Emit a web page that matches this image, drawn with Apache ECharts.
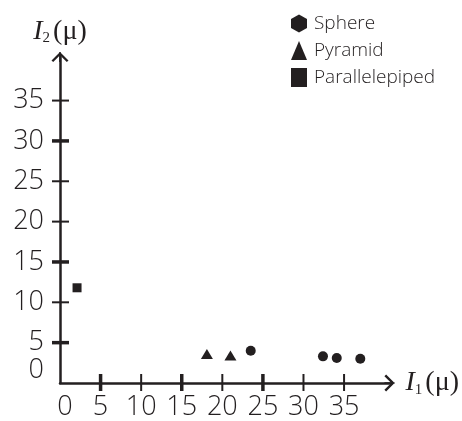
<!DOCTYPE html>
<html>
<head>
<meta charset="utf-8">
<script src="https://cdn.jsdelivr.net/npm/echarts@6/dist/echarts.min.js"></script>
<style>
  html, body { margin: 0; padding: 0; background: #fff; }
  #main { width: 462px; height: 421px; }
</style>
</head>
<body>
<div id="main"></div>
<script>
// values
const sphere = [[23.5, 4.0], [32.4, 3.3], [34.1, 3.1], [37.0, 3.0]];
const pyramid = [[18.1, 3.6], [21.0, 3.4]];
const parallelepiped = [[2.1, 11.8]];

// tick marks: thick ones and thin ones
const xTicksThick = [5, 15, 25];
const xTicksThin = [10, 20, 30, 35];
const yTicksThick = [5, 15, 30];
const yTicksThin = [10, 20, 25, 35];

const ink = "#231f20";
const hexagon = "path://M10,0 L19,5 L19,15 L10,20 L1,15 L1,5 Z";
const arrow = "path://M10,0 L20,10 L18,12 L10,4 L2,12 L0,10 Z M9,0 L11,0 L11,12 L9,12 Z";

const tickRows = [];
xTicksThick.forEach(v => tickRows.push([v, 0, "x", 3.5]));
xTicksThin.forEach(v => tickRows.push([v, 0, "x", 2]));
yTicksThick.forEach(v => tickRows.push([0, v, "y", 3.5]));
yTicksThin.forEach(v => tickRows.push([0, v, "y", 2]));

const nameRich = {
  i: { fontFamily: "Liberation Serif", fontStyle: "italic", fontSize: 28, color: ink },
  s: { fontFamily: "Liberation Serif", fontSize: 15, color: ink, padding: [14, 3, 0, 0] },
  p: { fontFamily: "Liberation Serif", fontSize: 28, color: ink }
};

const labelFont = { fontFamily: "Open Sans", fontWeight: 300, fontSize: 27, color: ink };

const chart = echarts.init(document.getElementById("main"));
chart.setOption({
  animation: false,
  grid: { left: 60, right: 70, top: 57, bottom: 33 },
  legend: {
    orient: "vertical",
    left: 286,
    top: 9,
    itemGap: 8,
    itemWidth: 16,
    itemHeight: 19,
    itemStyle: { opacity: 1, color: ink },
    textStyle: { fontFamily: "Open Sans", fontWeight: 300, fontSize: 19, color: ink, padding: [0, 0, 0, 2] },
    data: [
      { name: "Sphere", icon: hexagon },
      { name: "Pyramid", icon: "triangle" },
      { name: "Parallelepiped", icon: "rect" }
    ]
  },
  xAxis: {
    type: "value",
    min: 0,
    max: 40.6,
    interval: 5,
    name: "{i|I}{s|1}{p|(μ)}",
    nameLocation: "end",
    nameGap: 16,
    nameTextStyle: { rich: nameRich, verticalAlign: "middle" },
    splitLine: { show: false },
    axisTick: { show: false },
    axisLine: {
      lineStyle: { color: ink, width: 2.5 },
      symbol: ["none", arrow],
      symbolSize: [17, 11]
    },
    axisLabel: Object.assign({
      margin: 11,
      formatter: v => v > 35 ? "" : (v === 0 ? "{z|0}" : String(v)),
      rich: { z: Object.assign({ padding: [0, 0, 0, 10] }, labelFont) }
    }, labelFont)
  },
  yAxis: {
    type: "value",
    min: 0,
    max: 40.4,
    interval: 5,
    name: "{i|I}{s|2}{p|(μ)}",
    nameLocation: "end",
    nameGap: 11,
    nameTextStyle: { rich: nameRich },
    splitLine: { show: false },
    axisTick: { show: false },
    axisLine: {
      lineStyle: { color: ink, width: 2.5 },
      symbol: ["none", arrow],
      symbolSize: [17, 11]
    },
    axisLabel: Object.assign({
      margin: 16,
      formatter: v => v > 35 ? "" : (v === 0 ? "{z|0}" : String(v)),
      rich: { z: Object.assign({ padding: [0, 0, 26, 0] }, labelFont) }
    }, labelFont)
  },
  series: [
    {
      type: "custom",
      silent: true,
      clip: false,
      data: tickRows,
      renderItem: (params, api) => {
        const p = api.coord([api.value(0), api.value(1)]);
        const dir = tickRows[params.dataIndex][2];
        const w = tickRows[params.dataIndex][3];
        const shape = dir === "x"
          ? { x1: p[0], y1: p[1] - 9, x2: p[0], y2: p[1] + 8 }
          : { x1: p[0] - 8, y1: p[1], x2: p[0] + 9, y2: p[1] };
        return { type: "line", shape: shape, style: { stroke: ink, lineWidth: w } };
      }
    },
    {
      name: "Sphere",
      type: "scatter",
      data: sphere,
      symbol: "circle",
      symbolSize: 10,
      itemStyle: { color: ink, opacity: 1 }
    },
    {
      name: "Pyramid",
      type: "scatter",
      data: pyramid,
      symbol: "triangle",
      symbolSize: [12, 10],
      itemStyle: { color: ink, opacity: 1 }
    },
    {
      name: "Parallelepiped",
      type: "scatter",
      data: parallelepiped,
      symbol: "rect",
      symbolSize: 9,
      itemStyle: { color: ink, opacity: 1 }
    }
  ]
});
</script>
</body>
</html>
